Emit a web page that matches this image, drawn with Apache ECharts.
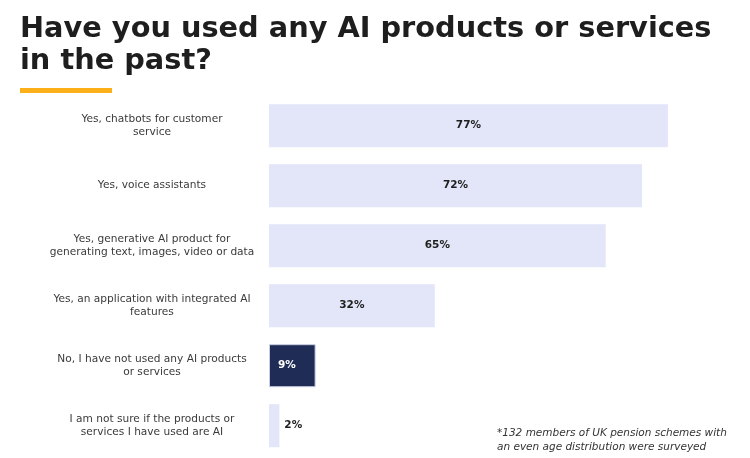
<!DOCTYPE html>
<html>
<head>
<meta charset="utf-8">
<script src="https://cdn.jsdelivr.net/npm/echarts@6/dist/echarts.min.js"></script>
<style>
html,body{margin:0;padding:0;background:#fff;}
#chart{width:750px;height:458px;}
</style>
</head>
<body>
<div id="chart"></div>
<script>
var categories = [
  "Yes, chatbots for customer\nservice",
  "Yes, voice assistants",
  "Yes, generative AI product for\ngenerating text, images, video or data",
  "Yes, an application with integrated AI\nfeatures",
  "No, I have not used any AI products\nor services",
  "I am not sure if the products or\nservices I have used are AI"
];
var values = [77, 72, 65, 32, 9, 2];
var highlightIndex = 4;
var titleText = "Have you used any AI products or services\nin the past?";
var footnoteText = "*132 members of UK pension schemes with\nan even age distribution were surveyed";

var chart = echarts.init(document.getElementById('chart'));
var data = values.map(function (v, i) {
  var item = { value: v };
  if (i === highlightIndex) {
    item.itemStyle = { color: '#1f2d56', borderColor: '#c9cde0', borderWidth: 1 };
    item.label = { position: 'insideLeft', distance: 9, color: '#ffffff' };
  } else if (v < 5) {
    item.label = { position: 'right', distance: 5 };
  }
  return item;
});

chart.setOption({
  animation: false,
  backgroundColor: '#ffffff',
  title: [{
    text: titleText,
    left: 15,
    top: 9,
    textStyle: {
      fontFamily: 'DejaVu Sans',
      fontWeight: 'bold',
      fontSize: 28.8,
      lineHeight: 32,
      color: '#1e1e1e'
    }
  }, {
    text: footnoteText,
    left: 492,
    top: 421,
    textStyle: {
      fontFamily: 'DejaVu Sans',
      fontStyle: 'italic',
      fontWeight: 'normal',
      fontSize: 10.5,
      lineHeight: 14,
      color: '#333333'
    }
  }],
  graphic: [{
    type: 'rect',
    shape: { x: 20, y: 88, width: 92, height: 5 },
    style: { fill: '#fbb01a' }
  }],
  grid: {
    left: 269,
    right: 66.6,
    top: 95.7,
    bottom: 2.3,
    containLabel: false
  },
  xAxis: {
    type: 'value',
    min: 0,
    max: 80,
    show: false
  },
  yAxis: {
    type: 'category',
    data: categories,
    inverse: true,
    axisLine: { show: false },
    axisTick: { show: false },
    splitLine: { show: false },
    axisLabel: {
      align: 'center',
      margin: 117,
      fontFamily: 'DejaVu Sans',
      fontSize: 10.6,
      lineHeight: 13,
      color: '#3a3a3a'
    }
  },
  series: [{
    type: 'bar',
    data: data,
    barWidth: 43,
    itemStyle: { color: '#e3e5f8' },
    label: {
      show: true,
      position: 'inside',
      formatter: '{c}%',
      fontFamily: 'DejaVu Sans',
      fontWeight: 'bold',
      fontSize: 10.5,
      color: '#1e1e1e'
    }
  }]
});
</script>
</body>
</html>
